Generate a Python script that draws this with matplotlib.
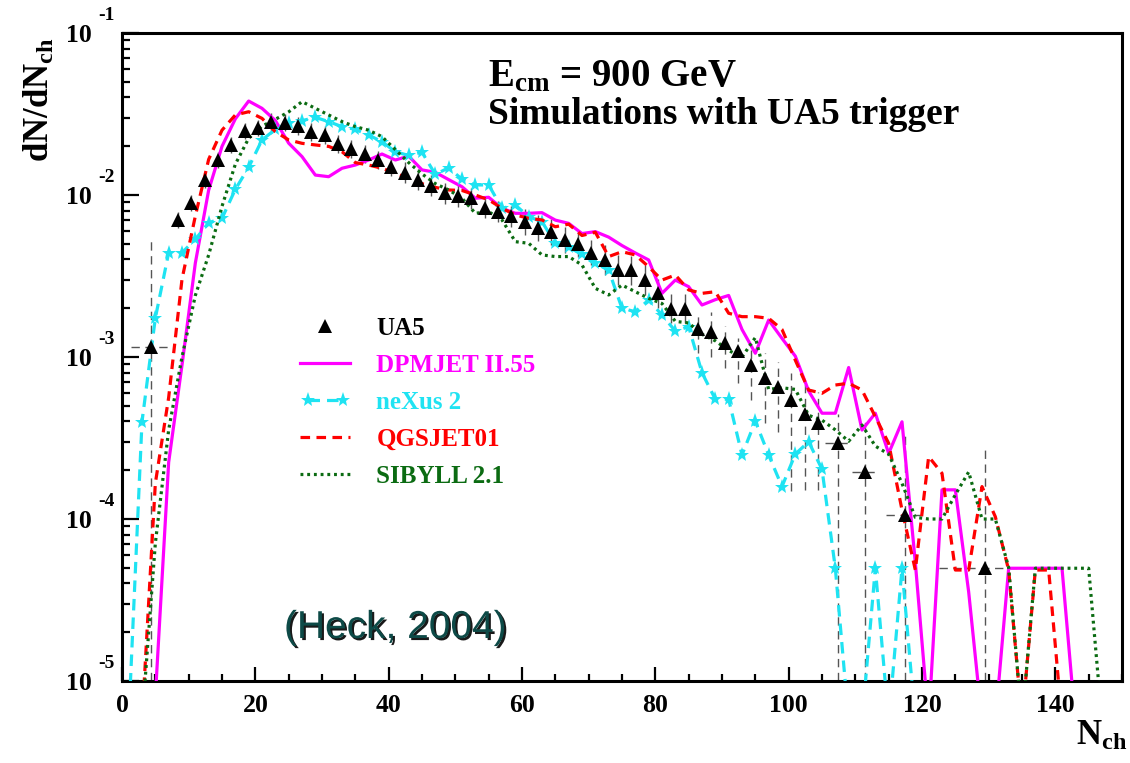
import matplotlib
matplotlib.use("Agg")
import numpy as np
import matplotlib.pyplot as plt
from matplotlib.ticker import MultipleLocator, LogLocator, FuncFormatter, NullFormatter, FixedLocator
from matplotlib.legend_handler import HandlerLine2D
import matplotlib.patheffects as pe

plt.rcParams['mathtext.fontset'] = 'custom'
plt.rcParams['mathtext.rm'] = 'Liberation Serif:bold'
plt.rcParams['mathtext.bf'] = 'Liberation Serif:bold'
plt.rcParams['mathtext.it'] = 'Liberation Serif:bold:italic'
plt.rcParams['font.family'] = ['Liberation Serif', 'DejaVu Serif']

# ---------------- data (log10 of dN/dNch) ----------------
Z = -5.25  # empty bin level as drawn (below the axis minimum)

n_sim = list(range(1, 150, 2))  # bin centres of the simulated distributions

dpmjet_log = [Z, Z, -5.1, -3.65, -3.05, -2.42, -1.97, -1.70, -1.53, -1.42,
              -1.465, -1.54, -1.68, -1.763, -1.877, -1.887, -1.835, -1.815, -1.784, -1.747,
              -1.784, -1.76, -1.845, -1.86, -1.905, -1.949, -2.02, -2.014, -2.082, -2.113,
              -2.113, -2.109, -2.155, -2.175, -2.238, -2.226, -2.26, -2.312, -2.358, -2.401,
              -2.607, -2.525, -2.566, -2.679, -2.646, -2.62, -2.83, -2.977, -2.772, -2.885,
              -2.995, -3.21, -3.347, -3.347, -3.065, -3.451, -3.347, -3.595, -3.40, -4.27,
              Z, -3.82, -3.82, -4.45, Z, Z, -4.304, -4.304, -4.304, -4.304,
              -4.304, Z, Z, Z, Z]

nexus_log = [Z, -3.40, -2.76, -2.356, -2.356, -2.274, -2.171, -2.144, -1.965, -1.829,
             -1.66, -1.595, -1.553, -1.541, -1.521, -1.547, -1.578, -1.595, -1.63, -1.671,
             -1.733, -1.756, -1.736, -1.873, -1.832, -1.903, -1.938, -1.938, -2.082, -2.062,
             -2.134, -2.165, -2.298, -2.324, -2.365, -2.422, -2.463, -2.70, -2.72, -2.648,
             -2.741, -2.84, -2.813, -3.097, -3.261, -3.261, -3.605, -3.396, -3.605, -3.80,
             -3.599, -3.523, -3.693, -4.304, Z, Z, -4.304, Z, -4.304, Z,
             Z, Z, Z, Z, Z, Z, Z, Z, Z, Z,
             Z, Z, Z, Z, Z]

qgsjet_log = [Z, Z, -3.78, -3.25, -2.52, -2.13, -1.78, -1.60, -1.506, -1.486,
              -1.527, -1.609, -1.66, -1.681, -1.691, -1.70, -1.733, -1.80, -1.815, -1.835,
              -1.866, -1.897, -1.93, -1.953, -1.969, -1.972, -2.0, -2.03, -2.082, -2.123,
              -2.144, -2.154, -2.196, -2.18, -2.25, -2.23, -2.38, -2.35, -2.37, -2.443,
              -2.525, -2.494, -2.586, -2.607, -2.597, -2.73, -2.751, -2.751, -2.761, -2.83,
              -3.02, -3.204, -3.224, -3.173, -3.162, -3.204, -3.369, -3.533, -3.944, -4.315,
              -3.615, -3.718, -4.315, -4.315, -3.80, -3.986, -4.315, Z, -4.315, -4.315,
              Z, Z, Z, Z, Z]

sibyll_log = [Z, Z, -4.15, -3.45, -3.0, -2.62, -2.37, -2.07, -1.81, -1.65,
              -1.575, -1.533, -1.487, -1.424, -1.465, -1.506, -1.547, -1.578, -1.60, -1.64,
              -1.72, -1.80, -1.87, -1.93, -1.969, -2.02, -2.113, -2.103, -2.154, -2.288,
              -2.298, -2.37, -2.38, -2.38, -2.432, -2.576, -2.617, -2.556, -2.597, -2.638,
              -2.67, -2.78, -2.79, -2.86, -2.90, -2.96, -3.0, -2.88, -3.20, -3.19,
              -3.20, -3.36, -3.39, -3.45, -3.52, -3.42, -3.55, -3.60, -3.78, -3.99,
              -4.0, -4.0, -3.85, -3.71, -4.0, -4.0, -4.3, Z, -4.304, -4.304,
              -4.304, -4.304, -4.304, Z, Z]

# UA5 data: points with small (solid) error bars
ua5_x = [8.4, 10.4, 12.4, 14.4, 16.4, 18.4, 20.4, 22.4, 24.4, 26.4,
         28.4, 30.4, 32.4, 34.4, 36.4, 38.4, 40.4, 42.4, 44.4, 46.4,
         48.4, 50.4, 52.4, 54.4, 56.4, 58.4, 60.4, 62.4, 64.4, 66.4,
         68.4, 70.4, 72.4, 74.4, 76.4, 78.4, 80.4, 82.4, 84.4]
ua5_log = [-2.154, -2.051, -1.907, -1.784, -1.691, -1.605, -1.584, -1.547, -1.553, -1.572,
           -1.609, -1.63, -1.687, -1.716, -1.747, -1.784, -1.825, -1.862, -1.907, -1.944,
           -1.988, -2.006, -2.02, -2.078, -2.103, -2.13, -2.165, -2.206, -2.226, -2.275,
           -2.305, -2.355, -2.401, -2.463, -2.465, -2.525, -2.607, -2.703, -2.703]
ua5_err_dex = [0.05, 0.05, 0.05, 0.05, 0.05, 0.05, 0.05, 0.055, 0.055, 0.055,
               0.055, 0.055, 0.055, 0.055, 0.055, 0.055, 0.055, 0.065, 0.065, 0.065,
               0.065, 0.065, 0.065, 0.065, 0.065, 0.065, 0.08, 0.08, 0.08, 0.08,
               0.08, 0.08, 0.09, 0.09, 0.09, 0.09, 0.09, 0.09, 0.09]

# UA5 data: points with large (dashed) error bars
ua5t_x = [4.4, 86.4, 88.4, 90.4, 92.4, 94.4, 96.4, 98.4, 100.4, 102.4,
          104.4, 107.4, 111.4, 117.4, 129.4]
ua5t_log = [-2.94, -2.829, -2.844, -2.912, -2.961, -3.049, -3.131, -3.187, -3.265, -3.354,
            -3.405, -3.533, -3.708, -3.975, -4.304]
ua5t_hi_log = [-2.278, -2.72, -2.72, -2.81, -2.885, -2.957, -2.977, -3.03, -3.10, -3.142,
               -3.214, -3.35, -3.38, -3.48, -3.55]
ua5t_lo_log = [-6.0, -2.977, -2.998, -3.07, -3.16, -3.265, -3.41, -3.46, -3.83, -3.82,
               -3.82, -6.0, -6.0, -6.0, -6.0]
ua5t_xlo = [1.4, 86.4, 88.4, 90.4, 92.4, 94.4, 96.4, 98.4, 100.4, 102.4,
            104.4, 105.5, 109.5, 114.6, 122.5]
ua5t_xhi = [7.4, 86.4, 88.4, 90.4, 92.4, 94.4, 96.4, 98.4, 100.4, 102.4,
            104.4, 109.0, 113.3, 120.0, 135.6]

x_major = [0, 20, 40, 60, 80, 100, 120, 140]
y_decades = [-5, -4, -3, -2, -1]

labels = ['UA5', 'DPMJET II.55', 'neXus 2', 'QGSJET01', 'SIBYLL 2.1']
colors = ['black', '#ff00ff', '#1fe3f2', '#ff0000', '#0b6b12']

# ---------------- figure ----------------
W, H = 1130, 763
fig = plt.figure(figsize=(W / 100, H / 100), dpi=100)
fx = lambda x: x / W
fy = lambda y: 1 - y / H
ax = fig.add_axes([fx(122), fy(681), (1122 - 122) / W, (681 - 33) / H])

p = lambda arr: 10.0 ** np.asarray(arr, dtype=float)

l_dpm, = ax.plot(n_sim, p(dpmjet_log), color=colors[1], lw=2.3, zorder=3)
l_nex, = ax.plot(n_sim, p(nexus_log), color=colors[2], lw=2.3, ls=(0, (3.6, 2.2)),
                 marker='*', ms=11, mec=colors[2], mfc=colors[2], mew=0, zorder=3)
l_qgs, = ax.plot(n_sim, p(qgsjet_log), color=colors[3], lw=2.3, ls=(0, (3.0, 2.0)), zorder=3)
l_sib, = ax.plot(n_sim, p(sibyll_log), color=colors[4], lw=2.3, ls=(0, (0.9, 1.2)), zorder=3)

# error bars
v = np.asarray(ua5_log); e = np.asarray(ua5_err_dex)
ax.errorbar(ua5_x, p(v), yerr=[p(v) - p(v - e), p(v + e) - p(v)], fmt='none',
            ecolor='#555555', elinewidth=1.0, capsize=0, zorder=2)
vt = np.asarray(ua5t_log)
eb = ax.errorbar(ua5t_x, p(vt),
                 yerr=[p(vt) - p(ua5t_lo_log), p(ua5t_hi_log) - p(vt)],
                 xerr=[np.asarray(ua5t_x) - np.asarray(ua5t_xlo), np.asarray(ua5t_xhi) - np.asarray(ua5t_x)],
                 fmt='none', ecolor='#555555', elinewidth=1.0, capsize=0, zorder=2)
for lc in eb[2]:
    lc.set_linestyle((0, (6, 4)))

l_ua5, = ax.plot(list(ua5_x) + list(ua5t_x), p(list(ua5_log) + list(ua5t_log)),
                 ls='none', marker='^', ms=9.5, color='black', mew=0, zorder=4)

ax.set_yscale('log')
ax.set_xlim(0, 150)
ax.set_ylim(1e-5, 1e-1)

ax.xaxis.set_major_locator(FixedLocator(x_major))
ax.xaxis.set_minor_locator(MultipleLocator(5))
ax.yaxis.set_major_locator(FixedLocator(p(y_decades)))
ax.yaxis.set_minor_locator(LogLocator(base=10, subs=np.arange(2, 10)))
ax.yaxis.set_major_formatter(FuncFormatter(lambda y, pos: '10'))
ax.yaxis.set_minor_formatter(NullFormatter())

for s in ax.spines.values():
    s.set_linewidth(2.2)
ax.tick_params(which='both', direction='in', top=False, right=False, width=1.6, color='black')
ax.tick_params(axis='y', which='major', length=12, pad=21.5)
ax.tick_params(axis='y', which='minor', length=6)
ax.tick_params(axis='x', which='major', length=10, pad=9.5)
ax.tick_params(axis='x', which='minor', length=5)
for lab in ax.get_xticklabels() + ax.get_yticklabels():
    lab.set_fontfamily('Liberation Serif')
    lab.set_fontweight('bold')
    lab.set_fontsize(18.5)

for d in y_decades:
    ax.annotate(str(d), xy=(0, 10.0 ** d), xycoords=('axes fraction', 'data'),
                xytext=(-11.5, 12.5), textcoords='offset points', ha='center', va='center',
                fontsize=14, fontweight='bold', fontfamily='Liberation Serif')

# legend
leg = ax.legend([l_ua5, l_dpm, l_nex, l_qgs, l_sib], labels, loc='upper left',
                bbox_to_anchor=(fx(300), fy(317)), bbox_transform=fig.transFigure,
                frameon=False, prop={'family': 'Liberation Serif', 'weight': 'bold', 'size': 18},
                handlelength=2.0, handletextpad=1.05, labelspacing=0.56, borderpad=0,
                borderaxespad=0, labelcolor=colors,
                handler_map={l_nex: HandlerLine2D(numpoints=2)})

# texts
fig.text(fx(488), fy(86), r'E$_{\mathbf{cm}}$ = 900 GeV', fontsize=28, fontweight='bold',
         fontfamily='Liberation Serif', va='baseline', ha='left')
fig.text(fx(488), fy(124), 'Simulations with UA5 trigger', fontsize=27, fontweight='bold',
         fontfamily='Liberation Serif', va='baseline', ha='left')
fig.text(fx(40), fy(100), r'$\mathbf{dN/dN_{ch}}$', rotation=90, fontsize=25,
         ha='center', va='center')
fig.text(fx(1127), fy(745), r'$\mathbf{N_{ch}}$', fontsize=25, ha='right', va='baseline')
fig.text(fx(284), fy(638), '(Heck, 2004)', fontsize=28, fontfamily='Liberation Sans',
         color='#0d4a47', va='baseline', ha='left',
         path_effects=[pe.withSimplePatchShadow(offset=(1.5, -1.5), shadow_rgbFace='black', alpha=0.9)])

fig.savefig('out.png', dpi=100)
